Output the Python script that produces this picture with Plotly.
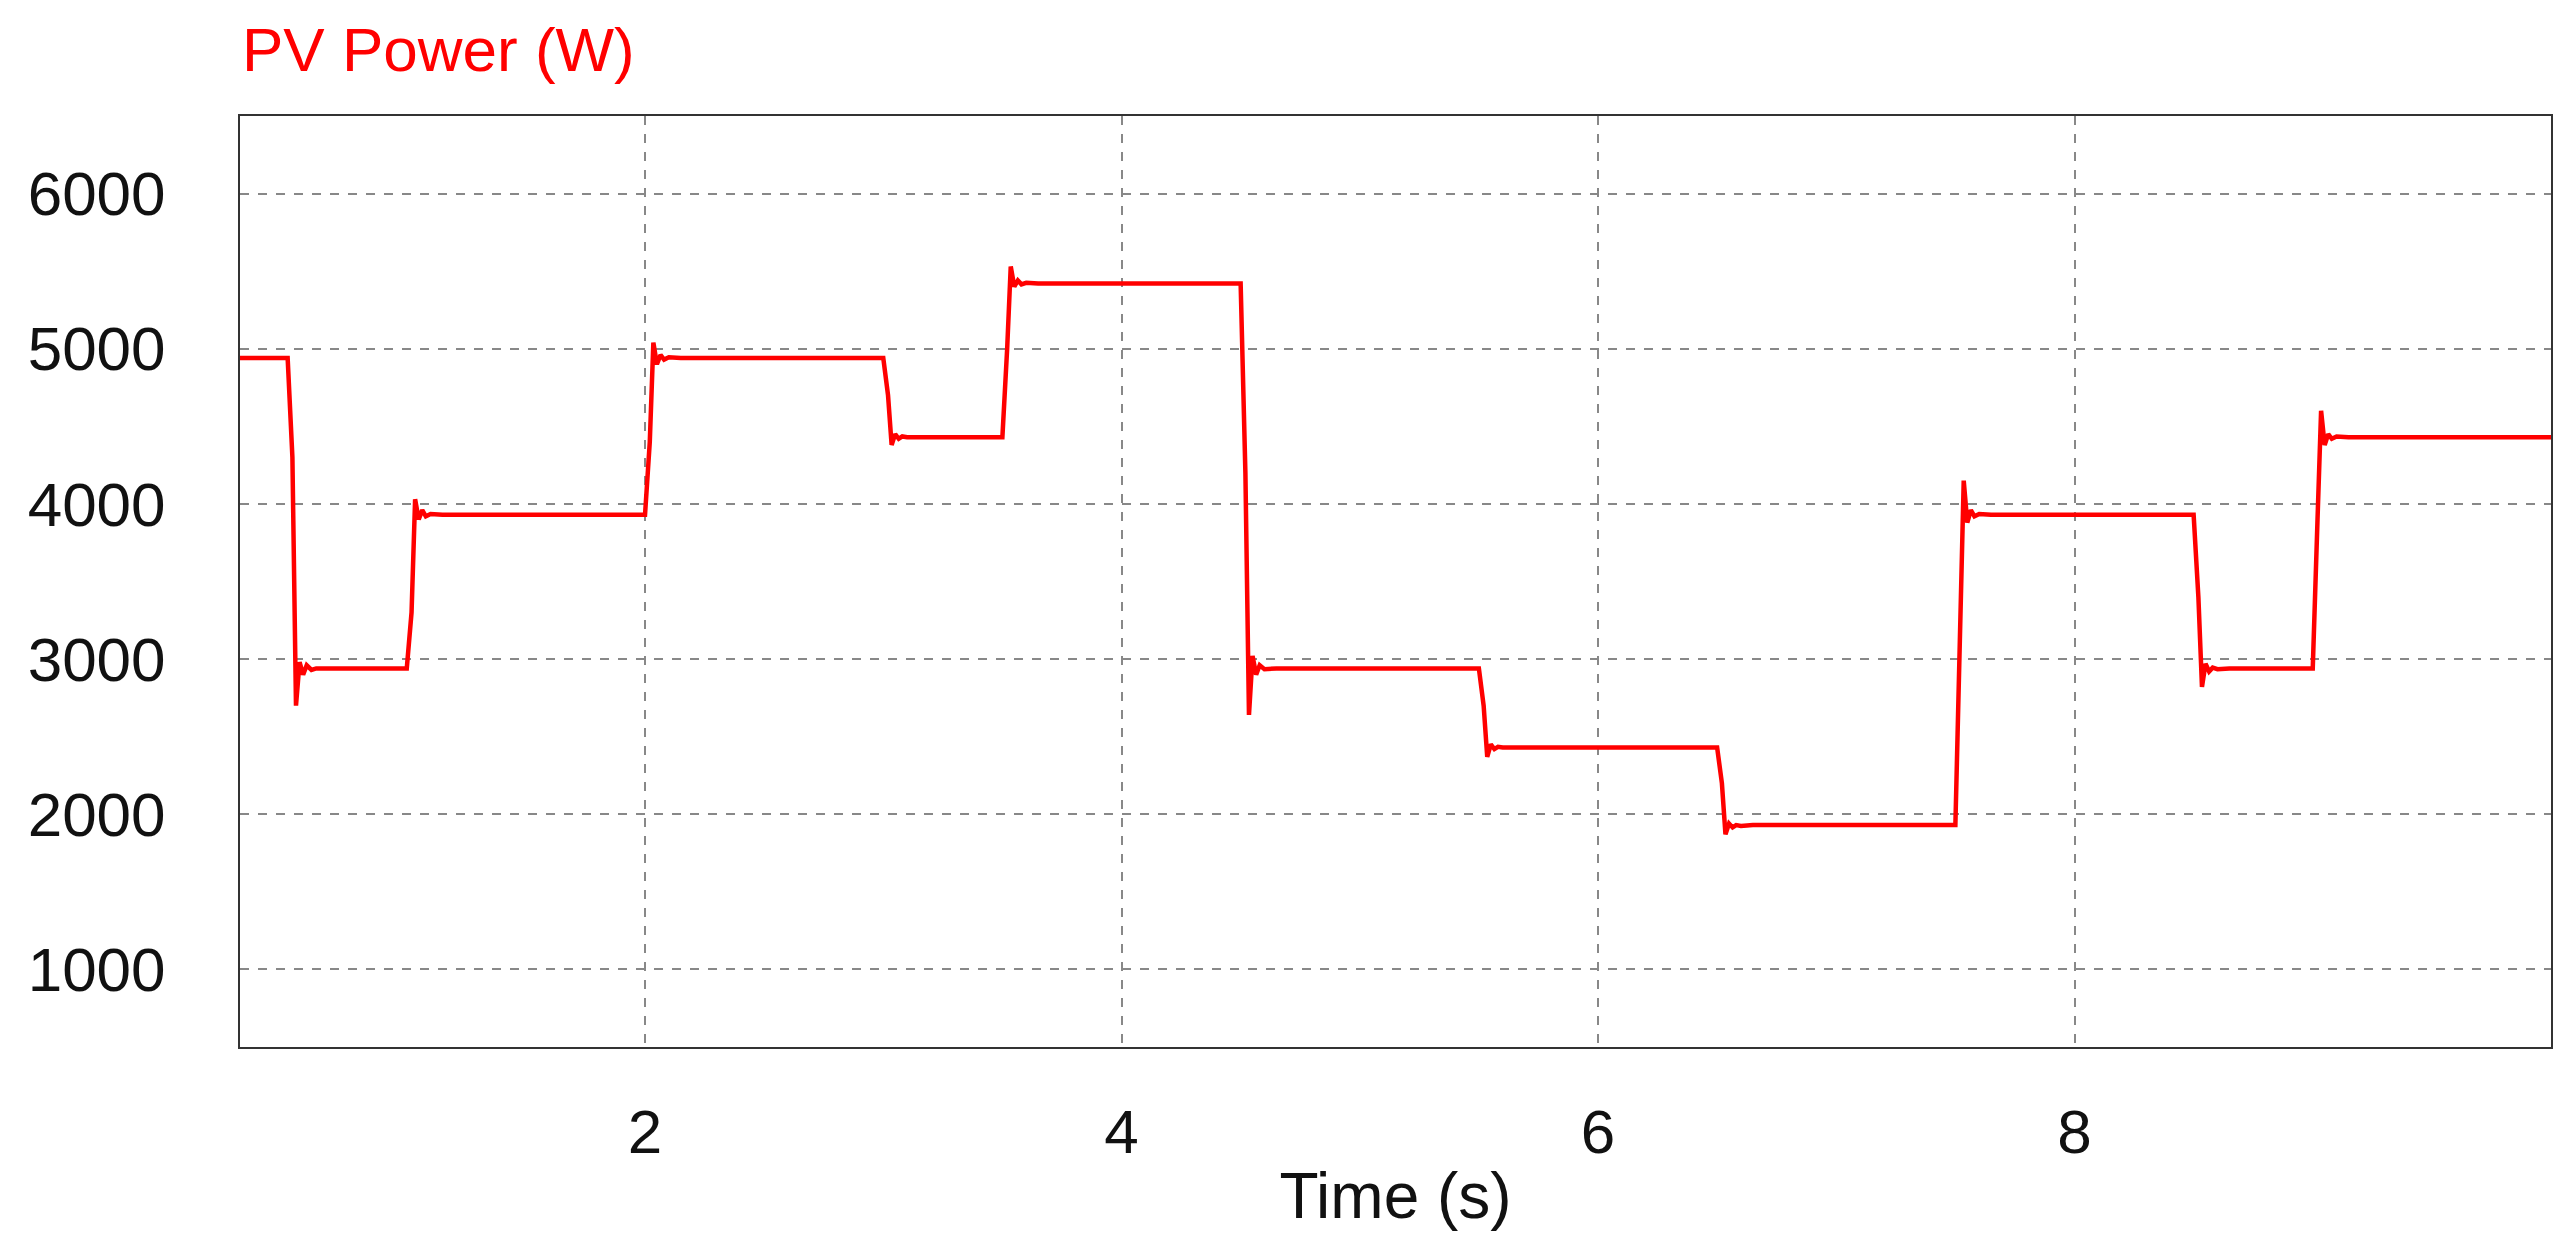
import plotly.graph_objects as go

time_s = [0.3, 0.50, 0.52, 0.535, 0.55, 0.565, 0.58, 0.60, 0.62, 0.65, 1.00,
          1.02, 1.035, 1.05, 1.065, 1.08, 1.10, 1.15, 2.00,
          2.02, 2.035, 2.05, 2.065, 2.08, 2.10, 2.15, 3.00,
          3.02, 3.035, 3.05, 3.065, 3.08, 3.10, 3.15, 3.50,
          3.52, 3.535, 3.55, 3.565, 3.58, 3.60, 3.65, 4.50,
          4.52, 4.535, 4.55, 4.565, 4.58, 4.60, 4.65, 5.50,
          5.52, 5.535, 5.55, 5.565, 5.58, 5.60, 5.65, 6.50,
          6.52, 6.535, 6.55, 6.565, 6.58, 6.60, 6.65, 7.50,
          7.52, 7.535, 7.55, 7.565, 7.58, 7.60, 7.65, 8.50,
          8.52, 8.535, 8.55, 8.565, 8.58, 8.60, 8.65, 9.00,
          9.02, 9.035, 9.05, 9.065, 9.08, 9.10, 9.15, 10.0]
power_w = [4940, 4940, 4300, 2700, 2980, 2900, 2960, 2930, 2940, 2940, 2940,
           3300, 4030, 3900, 3960, 3920, 3935, 3930, 3930,
           4400, 5040, 4900, 4960, 4930, 4945, 4940, 4940,
           4700, 4380, 4450, 4420, 4435, 4430, 4430, 4430,
           5000, 5530, 5400, 5440, 5415, 5425, 5420, 5420,
           4200, 2640, 3020, 2900, 2960, 2935, 2940, 2940,
           2700, 2370, 2450, 2420, 2435, 2430, 2430, 2430,
           2200, 1870, 1940, 1915, 1930, 1925, 1930, 1930,
           3200, 4150, 3880, 3960, 3920, 3935, 3930, 3930,
           3400, 2820, 2970, 2920, 2945, 2935, 2940, 2940,
           3900, 4600, 4380, 4450, 4420, 4435, 4430, 4430]

x_ticks = [2, 4, 6, 8, 10]
y_ticks = [1000, 2000, 3000, 4000, 5000, 6000]

fig = go.Figure(go.Scatter(x=time_s, y=power_w, mode="lines",
                           line=dict(color="#ff0000", width=4.5)))
font = "Liberation Sans, Arial, sans-serif"
ax = dict(showline=True, linecolor="#333", linewidth=2, mirror=True,
          gridcolor="#888", griddash="dash", gridwidth=1.5, zeroline=False,
          ticks="", tickfont=dict(size=62, color="#111", family=font))
fig.update_xaxes(range=[0.3, 10], tickvals=x_ticks, ticklabelstandoff=30, **ax,
                 title=dict(text="Time (s)", font=dict(size=64, color="#111", family=font), standoff=8))
fig.update_yaxes(range=[500, 6500], tickvals=y_ticks, ticklabelstandoff=60, **ax)
fig.update_layout(width=2573, height=1243, plot_bgcolor="white", paper_bgcolor="white",
                  margin=dict(l=232, r=30, t=108, b=204), showlegend=False,
                  annotations=[dict(text="PV Power (W)", x=0, y=1, xref="paper", yref="paper",
                                    xanchor="left", yanchor="bottom", yshift=30, showarrow=False,
                                    font=dict(size=62, color="#ff0000", family=font))])
fig.write_html("out.html")
